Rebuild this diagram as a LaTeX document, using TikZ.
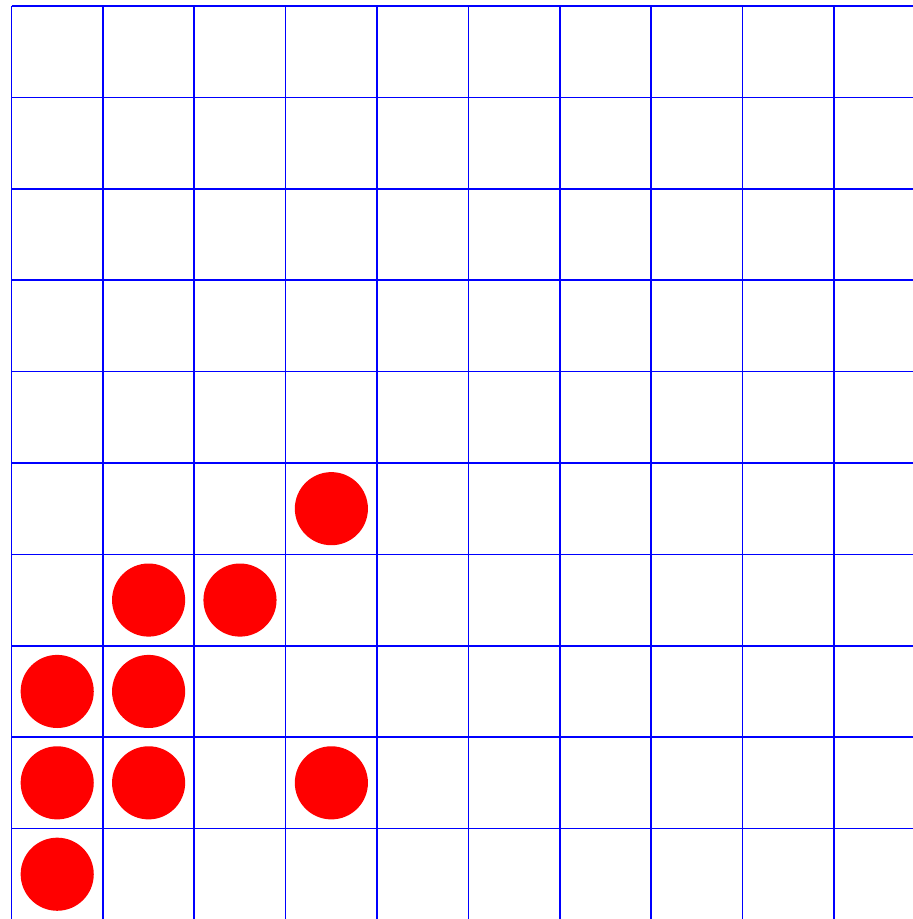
\documentclass[tikz,border=0pt]{standalone}
\begin{document}
\begin{tikzpicture}[>=stealth,
    luoi/.style={blue, line width=0.5pt},
    quan/.style={fill=red, draw=none}]
    % Khung nhìn (lưới bị cắt ở cạnh phải và cạnh dưới)
    \clip (-0.126, 0.066) rectangle (9.864, -9.990);

    % Lưới ô vuông
    \draw[luoi] (0, -10) grid (10, 0);

    % Các quân cờ màu đỏ
    \fill[quan] (3.5, -5.5) circle (0.4);
    \fill[quan] (1.5, -6.5) circle (0.4);
    \fill[quan] (2.5, -6.5) circle (0.4);
    \fill[quan] (0.5, -7.5) circle (0.4);
    \fill[quan] (1.5, -7.5) circle (0.4);
    \fill[quan] (0.5, -8.5) circle (0.4);
    \fill[quan] (1.5, -8.5) circle (0.4);
    \fill[quan] (3.5, -8.5) circle (0.4);
    \fill[quan] (0.5, -9.5) circle (0.4);
\end{tikzpicture}
\end{document}
